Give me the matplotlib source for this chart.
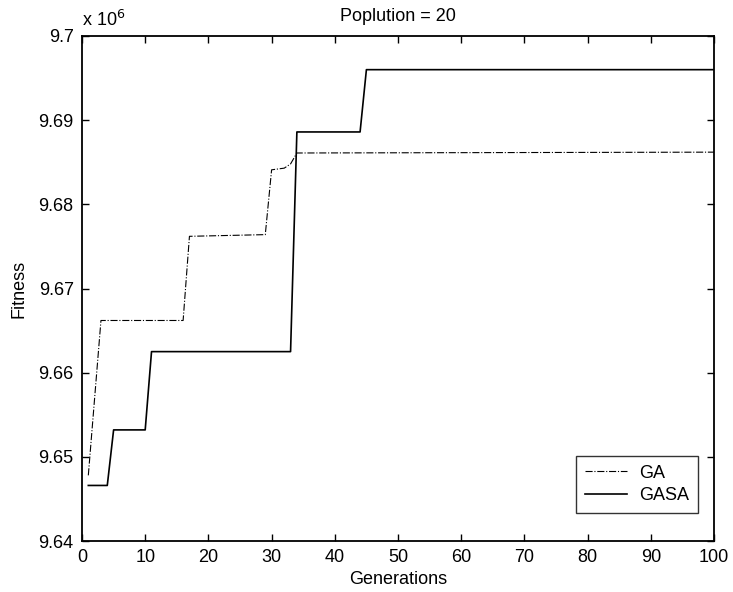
import matplotlib
matplotlib.use("Agg")
import matplotlib.pyplot as plt
from matplotlib.ticker import FuncFormatter, MultipleLocator

plt.rcParams['font.family'] = ['Liberation Sans', 'DejaVu Sans']

# Data (generation, fitness) vertices
ga_gen = [1, 2, 3, 16, 17, 29, 30, 32, 33, 34, 100]
ga_fit = [9.6478e6, 9.6570e6, 9.6662e6, 9.6662e6, 9.6762e6, 9.6764e6,
          9.6841e6, 9.6843e6, 9.6848e6, 9.6861e6, 9.6862e6]

gasa_gen = [1, 4, 5, 10, 11, 33, 34, 44, 45, 100]
gasa_fit = [9.6466e6, 9.6466e6, 9.6532e6, 9.6532e6, 9.6625e6, 9.6625e6,
            9.6886e6, 9.6886e6, 9.6960e6, 9.6960e6]

x_ticks = [0, 10, 20, 30, 40, 50, 60, 70, 80, 90, 100]

FS = 13
fig = plt.figure(figsize=(7.33, 5.92), dpi=100)
ax = fig.add_axes([82/733, 1 - 541/592, 632/733, 505/592])

ax.plot(ga_gen, ga_fit, color='black', linestyle='-.', linewidth=0.8, label='GA')
ax.plot(gasa_gen, gasa_fit, color='black', linestyle='-', linewidth=1.2, label='GASA')

ax.set_xlim(0, 100)
ax.set_ylim(9.64e6, 9.70e6)
ax.set_xticks(x_ticks)
ax.yaxis.set_major_locator(MultipleLocator(0.01e6))
ax.yaxis.set_major_formatter(FuncFormatter(lambda v, p: f"{v/1e6:.2f}".rstrip('0')))

ax.tick_params(direction='in', top=True, right=True, labelsize=FS, length=5, width=1)
ax.tick_params(axis='y', pad=6)
ax.tick_params(axis='x', pad=6)
for s in ax.spines.values():
    s.set_linewidth(1.3)

ax.set_title('Poplution = 20', fontsize=FS, pad=11)
ax.set_xlabel('Generations', fontsize=FS, labelpad=3)
ax.set_ylabel('Fitness', fontsize=FS, labelpad=8)
ax.text(0.0, 1.012, r'x 10$^6$', transform=ax.transAxes, fontsize=FS,
        ha='left', va='bottom')

leg = ax.legend(loc='lower right', bbox_to_anchor=(0.975, 0.055), fontsize=FS,
                frameon=True, fancybox=False, handlelength=2.3, handletextpad=0.7,
                borderpad=0.5, labelspacing=0.3, borderaxespad=0)
leg.get_frame().set_edgecolor('black')
leg.get_frame().set_linewidth(1.0)

fig.savefig('out.png', dpi=100)
